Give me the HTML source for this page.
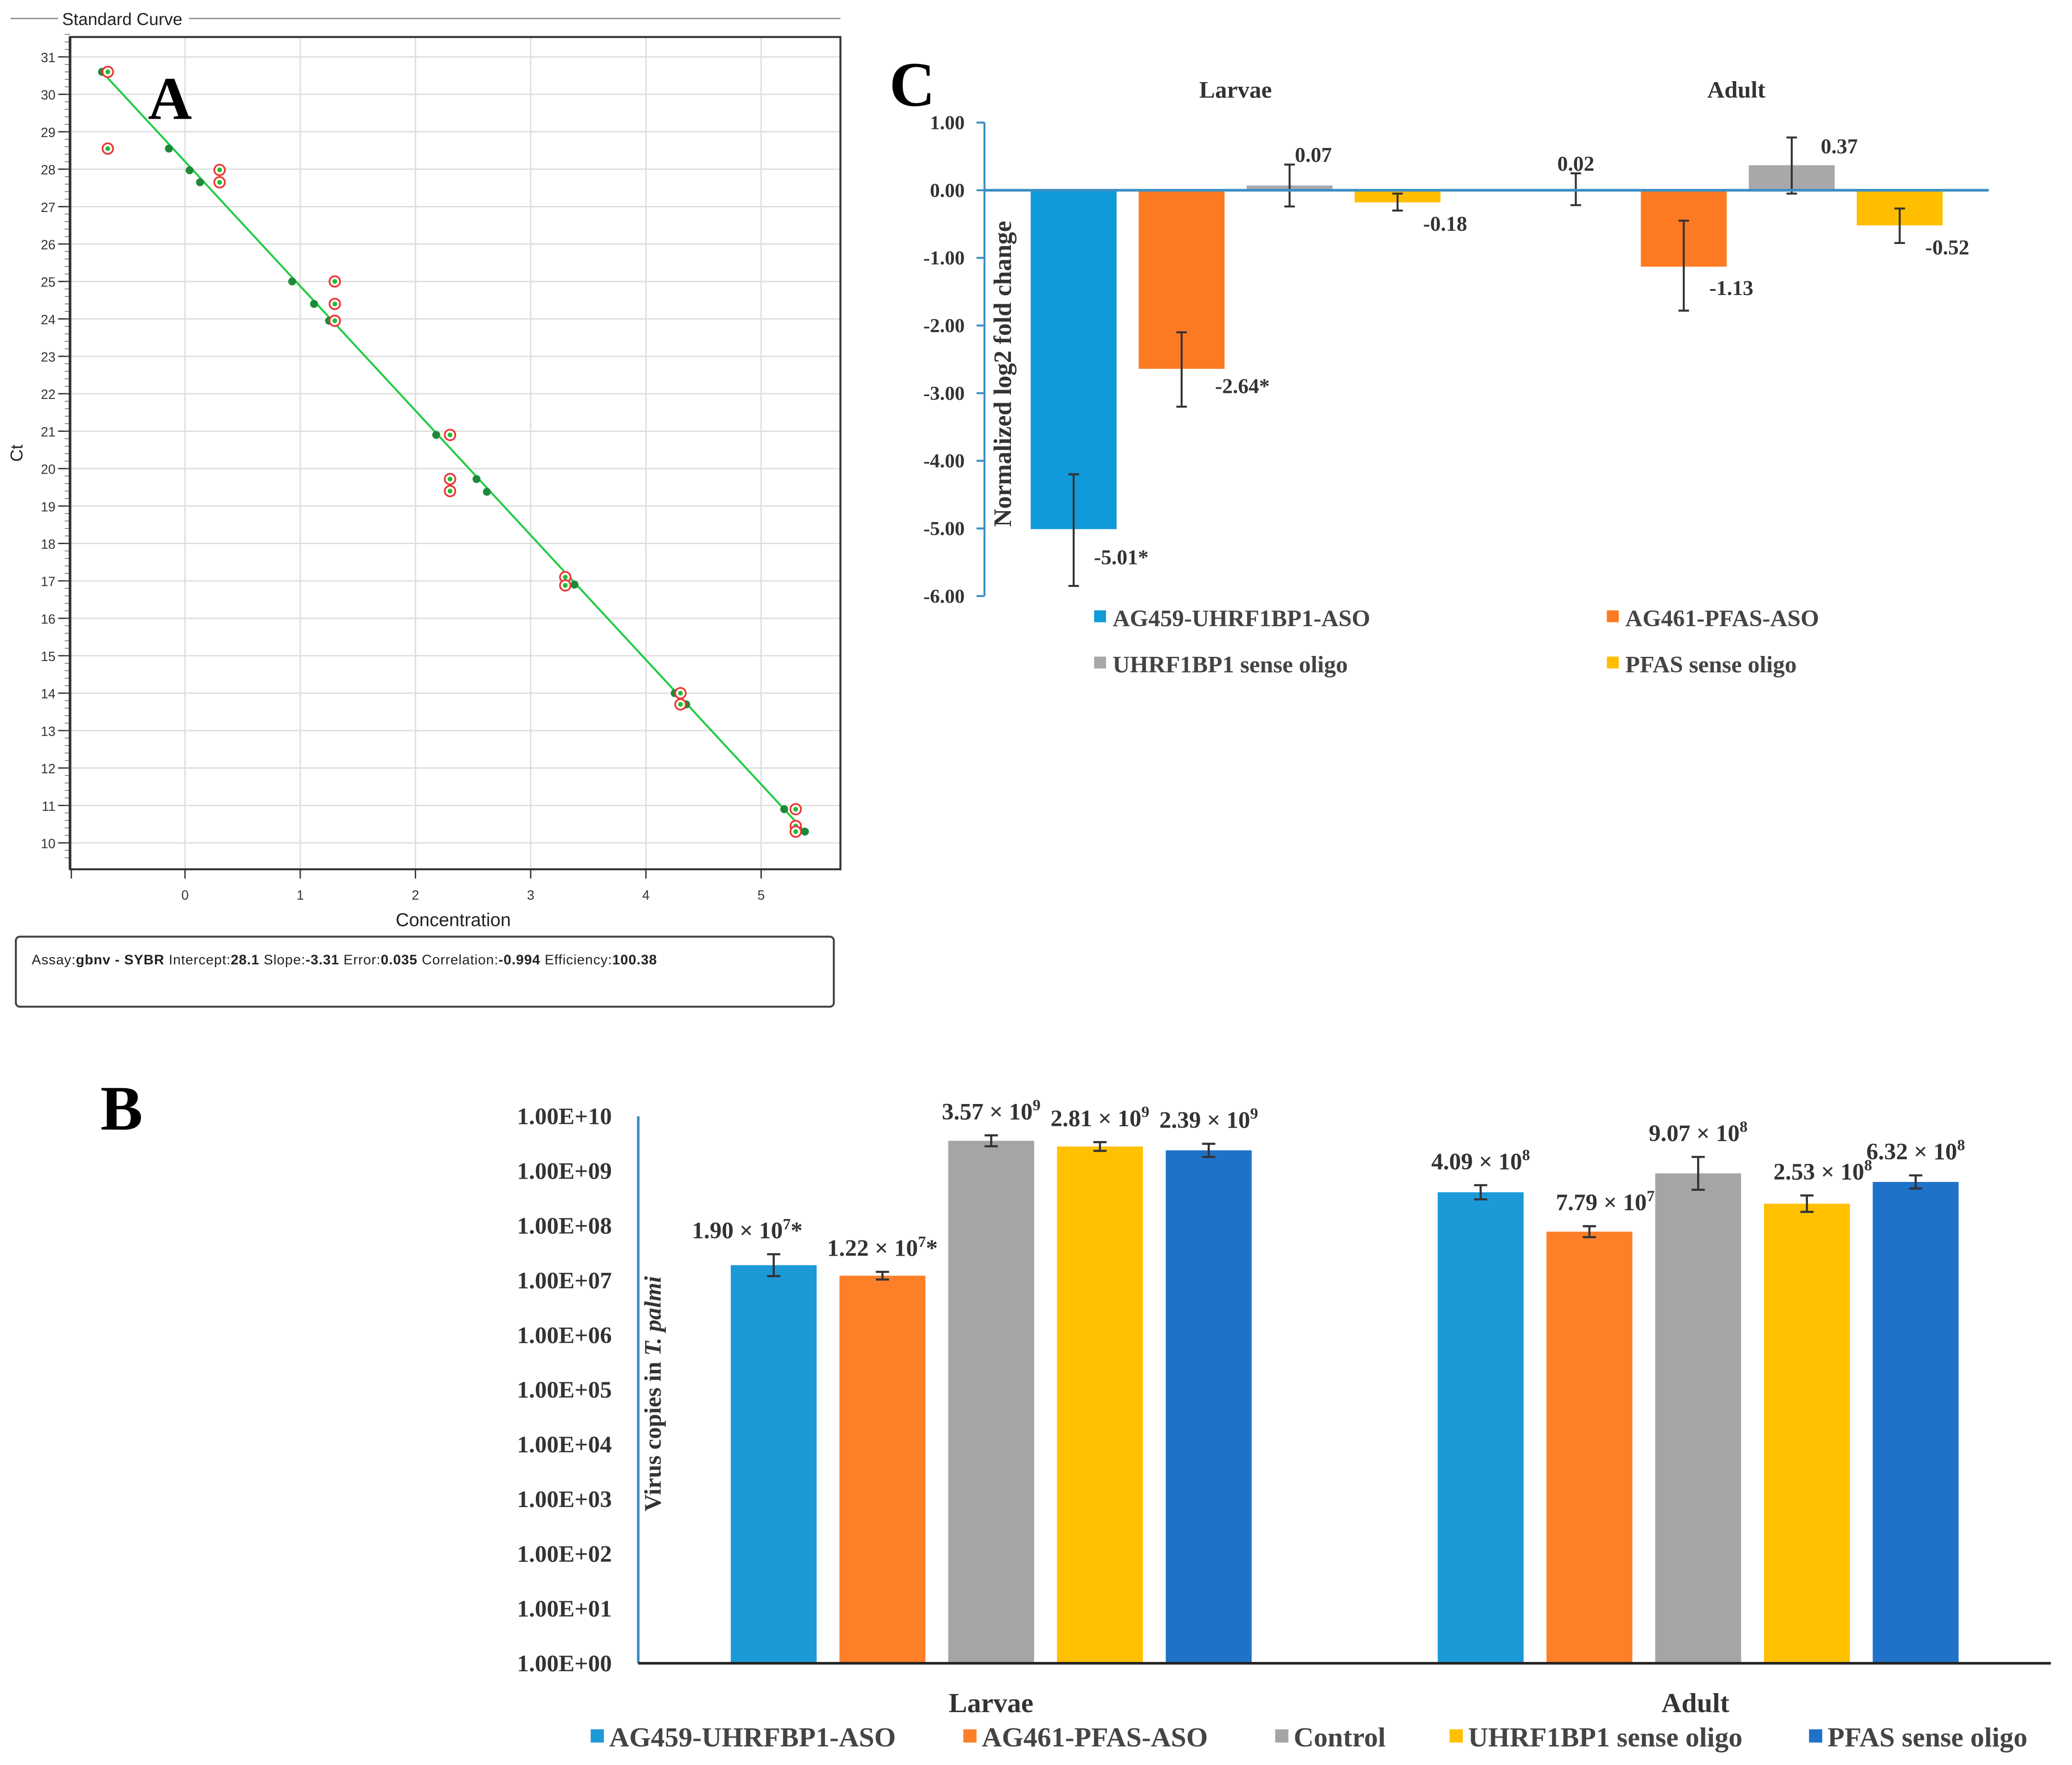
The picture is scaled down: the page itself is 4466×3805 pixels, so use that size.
<!DOCTYPE html>
<html><head><meta charset="utf-8"><style>
html,body{margin:0;padding:0;background:#fff;overflow:hidden}
svg{display:block}
.serif{font-family:"Liberation Serif",serif}
.sans{font-family:"Liberation Sans",sans-serif}
</style></head><body>
<svg id="fig" xmlns="http://www.w3.org/2000/svg" width="4466" height="3805" viewBox="0 0 1568 1336" preserveAspectRatio="none">
<rect width="1568" height="1336" fill="#fff"/>
<g id="pa"></g>
<g id="pc"></g>
<g id="pb"></g>
</svg>
<script>
// ---- Panel A data ----
const aXTicks=[0,1,2,3,4,5];
const aYTicks=[10,11,12,13,14,15,16,17,18,19,20,21,22,23,24,25,26,27,28,29,30,31];
const stdX=[-0.72,-0.14,0.04,0.13,0.93,1.12,1.25,2.18,2.53,2.62,3.38,4.25,4.35,5.2,5.38];
const stdY=[30.6,28.55,27.97,27.65,25.0,24.4,23.95,20.9,19.72,19.38,16.9,14.0,13.7,10.9,10.3];
const unkX=[-0.67,-0.67,0.3,0.3,1.3,1.3,1.3,2.3,2.3,2.3,3.3,3.3,4.3,4.3,5.3,5.3,5.3];
const unkY=[30.6,28.55,27.98,27.65,25.0,24.4,23.95,20.9,19.72,19.4,17.1,16.88,14.0,13.7,10.9,10.45,10.3];
const fitX=[-0.72,5.38];
const fitY=[30.6,10.3];
// ---- Panel C data ----
const cGroups=["Larvae","Adult"];
const cSeries=["AG459-UHRF1BP1-ASO","AG461-PFAS-ASO","UHRF1BP1 sense oligo","PFAS sense oligo"];
const cLarvae=[-5.01,-2.64,0.07,-0.18];
const cAdult=[0.02,-1.13,0.37,-0.52];
const cLarvaeHi=[-4.2,-2.1,0.38,-0.05];
const cLarvaeLo=[-5.85,-3.2,-0.24,-0.3];
const cAdultHi=[0.25,-0.45,0.78,-0.27];
const cAdultLo=[-0.22,-1.78,-0.05,-0.78];
const cLarvaeLbl=["-5.01*","-2.64*","0.07","-0.18"];
const cAdultLbl=["0.02","-1.13","0.37","-0.52"];
const cTicks=[1,0,-1,-2,-3,-4,-5,-6];
// ---- Panel B data ----
const bSeries=["AG459-UHRFBP1-ASO","AG461-PFAS-ASO","Control","UHRF1BP1 sense oligo","PFAS sense oligo"];
const bLarvae=[1.9e7,1.22e7,3.57e9,2.81e9,2.39e9];
const bAdult=[4.09e8,7.79e7,9.07e8,2.53e8,6.32e8];
const bLarvaeErr=[0.2,0.07,0.1,0.08,0.12];
const bAdultErr=[0.13,0.1,0.3,0.15,0.12];
const bLarvaeM=["1.90","1.22","3.57","2.81","2.39"];
const bLarvaeE=["7","7","9","9","9"];
const bLarvaeS=["*","*","","",""];
const bAdultM=["4.09","7.79","9.07","2.53","6.32"];
const bAdultE=["8","7","8","8","8"];
const bTicks=[0,1,2,3,4,5,6,7,8,9,10];

const NS="http://www.w3.org/2000/svg";
function mk(p,tag,at,txt){const e=document.createElementNS(NS,tag);for(const k in at)e.setAttribute(k,at[k]);if(txt!==undefined)e.textContent=txt;p.appendChild(e);return e;}

// ===== Panel A =====
const pa=document.getElementById('pa');
const ax=v=>140+v*87.2, ay=v=>638-(v-10)*28.33;
let e;
e=mk(pa,'line',{x1:8,y1:14,x2:44,y2:14,stroke:'#888','stroke-width':1});

e=mk(pa,'line',{x1:143,y1:14,x2:636,y2:14,stroke:'#888','stroke-width':1});

e=mk(pa,'text',{x:47,y:19,'font-size':13,class:'sans',fill:'#222'},'Standard Curve');

for(const t of aYTicks){
 e=mk(pa,'line',{x1:53,x2:636,y1:ay(t),y2:ay(t),stroke:'#ddd','stroke-width':1});
 
 e=mk(pa,'line',{x1:44,x2:53,y1:ay(t),y2:ay(t),stroke:'#333','stroke-width':1});
 
 e=mk(pa,'text',{x:42,y:ay(t)+4,'font-size':10,'text-anchor':'end',class:'sans',fill:'#333'},String(t));
 
}
for(let v=9.6;v<31.6;v+=0.2){mk(pa,'line',{x1:49,x2:53,y1:ay(v),y2:ay(v),stroke:'#555','stroke-width':0.5});}
for(const t of aXTicks){
 e=mk(pa,'line',{x1:ax(t),x2:ax(t),y1:28,y2:658,stroke:'#ddd','stroke-width':1});
 
 e=mk(pa,'text',{x:ax(t),y:681,'font-size':10,'text-anchor':'middle',class:'sans',fill:'#333'},String(t));
 
 e=mk(pa,'line',{x1:ax(t),x2:ax(t),y1:658,y2:665,stroke:'#333'});
}
mk(pa,'line',{x1:54,x2:54,y1:658,y2:665,stroke:'#333'});
e=mk(pa,'rect',{x:53,y:28,width:583,height:630,fill:'none',stroke:'#333','stroke-width':1.5});

e=mk(pa,'line',{x1:53,y1:28,x2:53,y2:658,stroke:'#333','stroke-width':2});
e=mk(pa,'line',{x1:ax(fitX[0]),y1:ay(fitY[0]),x2:ax(fitX[1]),y2:ay(fitY[1]),stroke:'#22cc44','stroke-width':1.5});

for(let i=0;i<stdX.length;i++){
 e=mk(pa,'circle',{cx:ax(stdX[i]),cy:ay(stdY[i]),r:3,fill:'#1c8a3a'});
 
}
for(let i=0;i<unkX.length;i++){
 e=mk(pa,'circle',{cx:ax(unkX[i]),cy:ay(unkY[i]),r:4,fill:'#fff',stroke:'#ee3333','stroke-width':1.3});
 
 mk(pa,'circle',{cx:ax(unkX[i]),cy:ay(unkY[i]),r:1.8,fill:'#22bb33'});
}
e=mk(pa,'text',{x:17,y:343,'font-size':13,class:'sans',fill:'#222',transform:'rotate(-90 17 343)','text-anchor':'middle'},'Ct');

e=mk(pa,'text',{x:343,y:701,'font-size':14,class:'sans',fill:'#222','text-anchor':'middle'},'Concentration');

e=mk(pa,'rect',{x:12,y:709,width:619,height:53,rx:3,fill:'#fff',stroke:'#444','stroke-width':1.5});

e=mk(pa,'text',{x:24,y:730,'font-size':10.5,class:'sans',fill:'#222',textLength:473,lengthAdjust:'spacing'});

e.innerHTML='Assay:<tspan font-weight="bold">gbnv - SYBR</tspan>   Intercept:<tspan font-weight="bold">28.1</tspan>   Slope:<tspan font-weight="bold">-3.31</tspan>   Error:<tspan font-weight="bold">0.035</tspan>   Correlation:<tspan font-weight="bold">-0.994</tspan>   Efficiency:<tspan font-weight="bold">100.38</tspan>';
e=mk(pa,'text',{x:112,y:90,'font-size':46,'font-weight':'bold',class:'serif',fill:'#000'},'A');


// ===== Panel C =====
const pc=document.getElementById('pc');
const cy=v=>144-v*51.2;
const cCol=['#0f9ad9','#fd7a22','#a8a8a8','#ffbf00'];
const cGrpX=[780,1160];
const cLbl=[cLarvaeLbl,cAdultLbl], cVal=[cLarvae,cAdult], cHi=[cLarvaeHi,cAdultHi], cLo=[cLarvaeLo,cAdultLo];
e=mk(pc,'text',{x:673,y:80,'font-size':48,'font-weight':'bold',class:'serif'},'C');

for(const t of cTicks){
 e=mk(pc,'text',{x:730,y:cy(t)+5,'font-size':15,'font-weight':'bold','text-anchor':'end',class:'serif',fill:'#333'},t.toFixed(2));
 
 mk(pc,'line',{x1:739,x2:745,y1:cy(t),y2:cy(t),stroke:'#3b8fc4','stroke-width':1.5});
}
e=mk(pc,'line',{x1:745,x2:745,y1:cy(1),y2:cy(-6),stroke:'#3b8fc4','stroke-width':1.5});

cGroups.forEach((g,gi)=>{
 e=mk(pc,'text',{x:[935,1314][gi],y:74,'font-size':18,'font-weight':'bold','text-anchor':'middle',class:'serif',fill:'#333'},g);
 
 for(let i=0;i<4;i++){
  const x=cGrpX[gi]+i*81.7, v=cVal[gi][i], y0=cy(0), y1=cy(v);
  let col=cCol[i]; if(gi===1&&i===0) col='#cfe6f3';
  e=mk(pc,'rect',{x:x,y:Math.min(y0,y1),width:65,height:Math.max(Math.abs(y1-y0),1),fill:col});
  
  const cx=x+32.5;
  e=mk(pc,'path',{d:`M${cx},${cy(cHi[gi][i])}V${cy(cLo[gi][i])}M${cx-4},${cy(cHi[gi][i])}h8M${cx-4},${cy(cLo[gi][i])}h8`,stroke:'#333','stroke-width':1.5,fill:'none'});
  
  let ly = v>=0 ? cy(cHi[gi][i])-2+ (gi===1&&i===2?14:0) : cy(cLo[gi][i])+ (i===1&&gi===0?-2:10);
  let lx = cx+ (v>=0?(gi===1&&i===0?0:(gi===1?36:18)):36);
  if(gi===0&&i===0){ly=cy(-5.53);}
  if(gi===0&&i===1){ly=cy(-3.0);lx=cx+46;}
  if(gi===1&&i===1){ly=cy(-1.55);}
  if(gi===1&&i===3){ly=cy(-0.95);}
  if(gi===0&&i===3){ly=cy(-0.6);}
  e=mk(pc,'text',{x:lx,y:ly,'font-size':16,'font-weight':'bold','text-anchor':'middle',class:'serif',fill:'#333'},cLbl[gi][i]);
  
 }
});
e=mk(pc,'line',{x1:745,x2:1505,y1:cy(0),y2:cy(0),stroke:'#3b8fc4','stroke-width':2});

e=mk(pc,'text',{x:765,y:283,'font-size':19,'font-weight':'bold','text-anchor':'middle',class:'serif',fill:'#333',transform:'rotate(-90 765 283)'},'Normalized log2 fold change');

const cLegX=[828,1216,828,1216], cLegY=[468,468,503,503];
cSeries.forEach((s,i)=>{
 e=mk(pc,'rect',{x:cLegX[i],y:cLegY[i]-6,width:9,height:9,fill:cCol[i]});
 
 e=mk(pc,'text',{x:cLegX[i]+14,y:cLegY[i]+6,'font-size':18,'font-weight':'bold',class:'serif',fill:'#444'},s);
 
});

// ===== Panel B =====
const pb=document.getElementById('pb');
const by=v=>1259-Math.log10(v)*41.4;
const byl=l=>1259-l*41.4;
const bCol=['#1c9ad8','#fd7f28','#a5a5a5','#ffc000','#1f72c8'];
const bGrpX=[553,1088];
e=mk(pb,'text',{x:76,y:855,'font-size':48,'font-weight':'bold',class:'serif'},'B');

for(const t of bTicks){
 e=mk(pb,'text',{x:463,y:byl(t)+6,'font-size':18,'font-weight':'bold','text-anchor':'end',class:'serif',fill:'#333'},'1.00E+'+String(t).padStart(2,'0'));
 
}
e=mk(pb,'line',{x1:483,x2:483,y1:845,y2:1259,stroke:'#3b8fc4','stroke-width':2});

const bVal=[bLarvae,bAdult],bErr=[bLarvaeErr,bAdultErr],bM=[bLarvaeM,bAdultM],bE=[bLarvaeE,bAdultE];
for(let gi=0;gi<2;gi++){
 for(let i=0;i<5;i++){
  const x=bGrpX[gi]+i*82.3, v=bVal[gi][i], y=by(v);
  e=mk(pb,'rect',{x:x,y:y,width:65,height:1259-y,fill:bCol[i]});
  
  const cx=x+32.5,l=Math.log10(v),er=bErr[gi][i];
  e=mk(pb,'path',{d:`M${cx},${byl(l+er)}V${byl(l-er)}M${cx-5},${byl(l+er)}h10M${cx-5},${byl(l-er)}h10`,stroke:'#333','stroke-width':1.6,fill:'none'});
  
  const ly=byl(l+er)-12, lx=cx+(gi===1&&(i===1||i===3)?12:(i===0&&gi===0?-20:0));
  e=mk(pb,'text',{x:lx,y:ly,'font-size':18,'font-weight':'bold','text-anchor':'middle',class:'serif',fill:'#333'});
  
  e.innerHTML=bM[gi][i]+' × 10<tspan dy="-7" font-size="12">'+bE[gi][i]+'</tspan>'+(gi===0&&bLarvaeS[i]?'<tspan dy="7">*</tspan>':'');
 }
}
e=mk(pb,'line',{x1:483,x2:1552,y1:1259,y2:1259,stroke:'#222','stroke-width':2});

e=mk(pb,'text',{x:500,y:1055,'font-size':18,'font-weight':'bold','text-anchor':'middle',class:'serif',fill:'#333',transform:'rotate(-90 500 1055)'});

e.innerHTML='Virus copies in <tspan font-style="italic">T. palmi</tspan>';
e=mk(pb,'text',{x:750,y:1296,'font-size':21,'font-weight':'bold','text-anchor':'middle',class:'serif',fill:'#333'},'Larvae');

e=mk(pb,'text',{x:1283,y:1296,'font-size':21,'font-weight':'bold','text-anchor':'middle',class:'serif',fill:'#333'},'Adult');

const bLegX=[447,729,965,1097,1369];
bSeries.forEach((s,i)=>{
 e=mk(pb,'rect',{x:bLegX[i],y:1309,width:10,height:10,fill:bCol[i]});
 
 e=mk(pb,'text',{x:bLegX[i]+14,y:1322,'font-size':21,'font-weight':'bold',class:'serif',fill:'#444'},s);
 
});
</script>
</body></html>
